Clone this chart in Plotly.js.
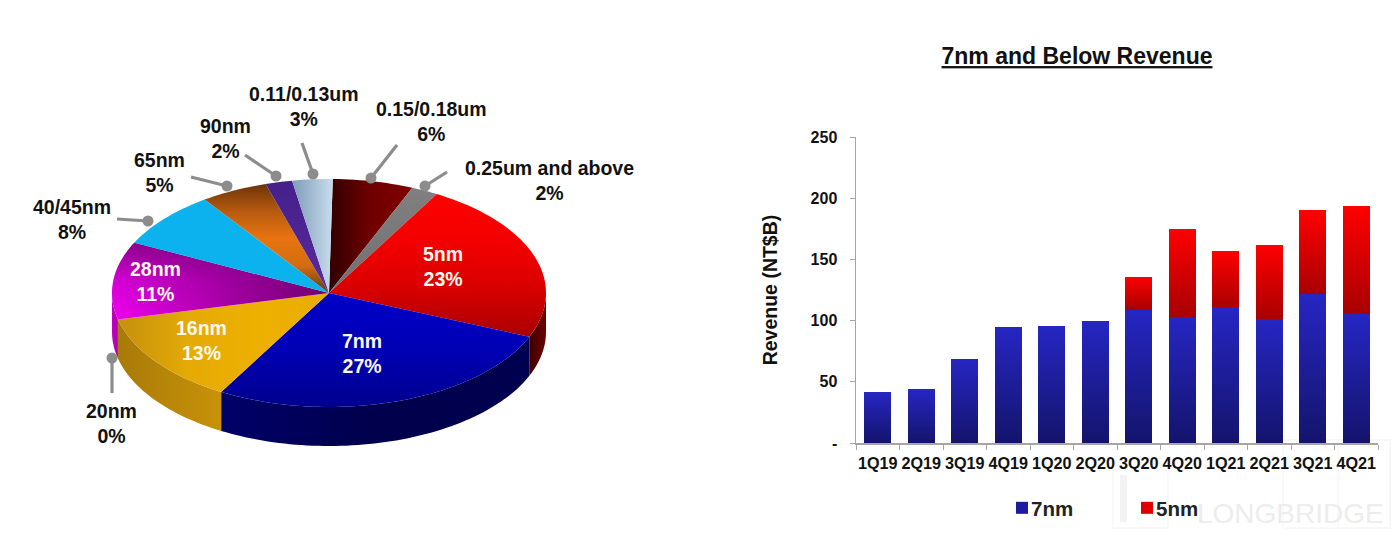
<!DOCTYPE html>
<html><head><meta charset="utf-8">
<script src="https://cdn.plot.ly/plotly-3.0.1.min.js"></script>
<style>html,body{margin:0;padding:0;background:#fff;overflow:hidden}#c{width:1399px;height:540px}</style>
</head><body><div id="c"></div>
<script>
// ---- data ----
const sliceNames = ['0.15/0.18um','0.25um and above','5nm','7nm','16nm','20nm','28nm','40/45nm','65nm','90nm','0.11/0.13um'];
const sliceShares = [6,2,23,27,13,0,11,8,5,2,3];
const quarters = ['1Q19','2Q19','3Q19','4Q19','1Q20','2Q20','3Q20','4Q20','1Q21','2Q21','3Q21','4Q21'];
const rev7nm = [42,44,69,95,96,100,109,103,111,101,122,105];
const rev5nm = [0,0,0,0,0,0,27,72,46,61,68,89];
const yTickVals = [0,50,100,150,200,250];
const yTickText = ['-','50','100','150','200','250'];

// ---- pie geometry (page pixels) ----
const cx=329, cy=293, rx=217, ry=114, depth=39, startAngle=1;
const FONT='"Liberation Sans", Arial, sans-serif';

// gradient helpers: v() lists colours from top of the shape to its bottom (y axis is flipped)
const v=(...c)=>({type:'vertical',colorscale:c.slice().reverse().map((k,i)=>[i/(c.length-1),k])});
const h=(...c)=>({type:'horizontal',colorscale:c.map((k,i)=>[i/(c.length-1),k])});
const topStyle = {
 '0.15/0.18um':h('#300000','#700000','#800000'),
 '0.25um and above':v('#808080','#707070'),
 '5nm':v('#ff0000','#f40000','#d80000','#a80000'),
 '7nm':v('#0000c8','#0000b4','#00008e'),
 '16nm':h('#c4900e','#e4aa06','#eeb000','#e8ac02'),
 '20nm':v('#e0a506','#e0a506'),
 '28nm':h('#f000f0','#b000b0','#700070'),
 '40/45nm':v('#0bb2ee','#0bb2ee'),
 '65nm':v('#6a3408','#b85a10','#e87410','#d46c10','#5a3a20'),
 '90nm':v('#44208a','#5a2a9e'),
 '0.11/0.13um':h('#7e9cba','#c8dcec')
};
// second shading layer laid over a slice
const topOverlay = {
 '28nm':v('rgba(110,0,110,0.75)','rgba(110,0,110,0.2)','rgba(110,0,110,0)')
};
const sideStyle = {
 '5nm':h('#3c0000','#700000'),
 '7nm':h('#000068','#00004c','#000050'),
 '16nm':h('#a87a08','#c89208'),
 '28nm':h('#c000c0','#b000b0')
};
// label placement: [x,y] centre of label block
const labelAt = {
 '0.15/0.18um':[431,121],'0.25um and above':[549,180],'5nm':[443,266],'7nm':[362,353],'16nm':[201,340],
 '20nm':[111,423],'28nm':[155,281],'40/45nm':[72,219],'65nm':[159,172],'90nm':[225,138],'0.11/0.13um':[304,106]
};
// callout leaders: [outer x, outer y, dot x, dot y]
const leaderAt = {
 '0.15/0.18um':[397,145,371,178],'0.25um and above':[447,172,425,186],'20nm':[112,393,112,358],'40/45nm':[117,219,148,221],
 '65nm':[191,177,227,186],'90nm':[245,155,276,176],'0.11/0.13um':[302,143,313,174]
};
const whiteLabels = ['5nm','7nm','16nm','28nm'];

const rad=d=>d*Math.PI/180;
const px=a=>cx+rx*Math.sin(rad(a));
const py=a=>cy-ry*Math.cos(rad(a));
function arc(a,b){const n=Math.max(2,Math.ceil((b-a)/1.5));const xs=[],ys=[];
  for(let i=0;i<=n;i++){const t=a+(b-a)*i/n;xs.push(px(t));ys.push(py(t));}return [xs,ys];}

const traces=[];
const annotations=[];
let acc=0;
const spans=sliceShares.map(s=>{const a=startAngle+acc*3.6;acc+=s;return [a,startAngle+acc*3.6];});

// sides (front half only)
sliceNames.forEach((n,i)=>{
  let [a,b]=spans[i]; a=Math.max(a,90); b=Math.min(b,270);
  if(b<=a) return;
  const [xs,ys]=arc(a,b);
  const X=xs.concat(xs.slice().reverse()), Y=ys.concat(ys.slice().reverse().map(y=>y+depth));
  traces.push({type:'scatter',mode:'none',x:X.concat(X[0]),y:Y.concat(Y[0]),xaxis:'x2',yaxis:'y2',fill:'toself',
    fillgradient:sideStyle[n],showlegend:false,hoverinfo:'skip'});
});
// top faces
sliceNames.forEach((n,i)=>{
  const [a,b]=spans[i]; if(b<=a) return;
  const [xs,ys]=arc(a,b);
  const X=[cx].concat(xs,[cx]), Y=[cy].concat(ys,[cy]);
  traces.push({type:'scatter',mode:'none',x:X,y:Y,xaxis:'x2',yaxis:'y2',fill:'toself',
    fillgradient:topStyle[n],name:n,showlegend:false,hoverinfo:'skip'});
  if(topOverlay[n]) traces.push({type:'scatter',mode:'none',x:X,y:Y,xaxis:'x2',yaxis:'y2',fill:'toself',
    fillgradient:topOverlay[n],showlegend:false,hoverinfo:'skip'});
});
// leaders and labels
sliceNames.forEach((n,i)=>{
  if(leaderAt[n]){
    const e=leaderAt[n];
    traces.push({type:'scatter',mode:'lines',x:[e[0],e[2]],y:[e[1],e[3]],xaxis:'x2',yaxis:'y2',
      line:{color:'#8c8c8c',width:3.2},showlegend:false,hoverinfo:'skip'});
    traces.push({type:'scatter',mode:'markers',x:[e[2]],y:[e[3]],xaxis:'x2',yaxis:'y2',
      marker:{color:'#8c8c8c',size:11},showlegend:false,hoverinfo:'skip'});
  }
  const l=labelAt[n], white=whiteLabels.includes(n);
  annotations.push({xref:'x2',yref:'y2',x:l[0],y:l[1],text:n+'<br>'+sliceShares[i]+'%',showarrow:false,align:'center',
    xanchor:'center',yanchor:'middle',font:{family:FONT,size:19.5,weight:700,color:white?'#fdf8ee':'#111111'}});
});
// bars
traces.push({type:'bar',name:'7nm',x:quarters,y:rev7nm,marker:{color:'#1c1ca0',line:{width:0}},hoverinfo:'skip'});
traces.push({type:'bar',name:'5nm',x:quarters,y:rev5nm,marker:{color:'#e00000',line:{width:0}},hoverinfo:'skip'});

// watermark
const P=(x,y)=>[x/1399,1-y/540];
annotations.push({xref:'paper',yref:'paper',x:P(1290,0)[0],y:P(0,513)[1],text:'LONGBRIDGE',showarrow:false,xanchor:'center',yanchor:'middle',
  font:{family:FONT,size:28,color:'#ededed'}});
const faintBoxes=[[1113,470,1168,528],[1283,440,1390,528],[1338,440,1390,528]];
const shapes=faintBoxes.map(b=>({type:'rect',xref:'paper',yref:'paper',layer:'below',x0:b[0]/1399,x1:b[2]/1399,y0:1-b[3]/540,y1:1-b[1]/540,
  line:{color:'#f8f8f8',width:1.5},fillcolor:'rgba(0,0,0,0)'}));
shapes.push({type:'rect',xref:'paper',yref:'paper',layer:'below',x0:1120/1399,x1:1127/1399,y0:1-522/540,y1:1-475/540,line:{width:0},fillcolor:'#f3f3f3'});

const layout={
 width:1399,height:540,margin:{l:0,r:0,t:0,b:0},paper_bgcolor:'#fff',plot_bgcolor:'rgba(0,0,0,0)',
 title:{text:'7nm and Below Revenue',x:1077/1399,xanchor:'center',y:1-56/540,yanchor:'middle',
   font:{family:FONT,size:23,weight:700,color:'#111',lineposition:'under'}},
 barmode:'stack',bargap:0.38,shapes,
 xaxis:{domain:[856/1399,1378/1399],anchor:'y',type:'category',showgrid:false,zeroline:false,showline:true,linecolor:'#a6a6a6',linewidth:1.5,
   ticks:'outside',ticklen:5,tickcolor:'#a6a6a6',tickson:'boundaries',tickangle:0,
   tickfont:{family:FONT,size:16.2,weight:700,color:'#111'},ticklabelstandoff:5},
 yaxis:{domain:[97/540,403/540],anchor:'x',range:[0,250],tickvals:yTickVals,ticktext:yTickText,showgrid:false,zeroline:false,
   showline:true,linecolor:'#a6a6a6',linewidth:1.5,ticks:'outside',ticklen:5,tickcolor:'#a6a6a6',
   tickfont:{family:FONT,size:16,weight:700,color:'#111'},ticklabelstandoff:9,
   title:{text:'Revenue (NT$B)',font:{family:FONT,size:19.5,weight:700,color:'#111'},standoff:28}},
 xaxis2:{domain:[0,0.5],range:[0,699.5],visible:false,fixedrange:true,anchor:'y2'},
 yaxis2:{domain:[0,1],range:[540,0],visible:false,fixedrange:true,anchor:'x2'},
 legend:{orientation:'h',x:1002/1399,xanchor:'left',y:1-508/540,yanchor:'middle',traceorder:'normal',entrywidth:80,entrywidthmode:'pixels',
   font:{family:FONT,size:20.5,weight:700,color:'#222'},bgcolor:'rgba(0,0,0,0)'},
 annotations
};
Plotly.newPlot('c',traces,layout,{displayModeBar:false,staticPlot:true}).then(gd=>{
  // vertical shading on each bar, as in the reference
  const svg=gd.querySelector('svg.main-svg');
  const NS='http://www.w3.org/2000/svg';
  const defs=svg.querySelector('defs')||svg.appendChild(document.createElementNS(NS,'defs'));
  const mk=(id,t,b)=>{const g=document.createElementNS(NS,'linearGradient');g.id=id;
    g.setAttribute('x1','0');g.setAttribute('y1','0');g.setAttribute('x2','0');g.setAttribute('y2','1');
    [[0,t],[1,b]].forEach(([o,c])=>{const s=document.createElementNS(NS,'stop');s.setAttribute('offset',o);s.setAttribute('stop-color',c);g.appendChild(s);});
    defs.appendChild(g);};
  mk('g7','#2626c4','#14146c');mk('g5','#ff0000','#a80000');
  const groups=gd.querySelectorAll('.barlayer .trace');
  groups.forEach((t,i)=>{t.querySelectorAll('.point path').forEach(p=>{p.style.fill='url(#'+(i===0?'g7':'g5')+')';});});
  // tighten the gap between legend swatch and text
  gd.querySelectorAll('.legendtext').forEach(t=>{t.setAttribute('x',parseFloat(t.getAttribute('x'))-11);});
});
</script></body></html>
